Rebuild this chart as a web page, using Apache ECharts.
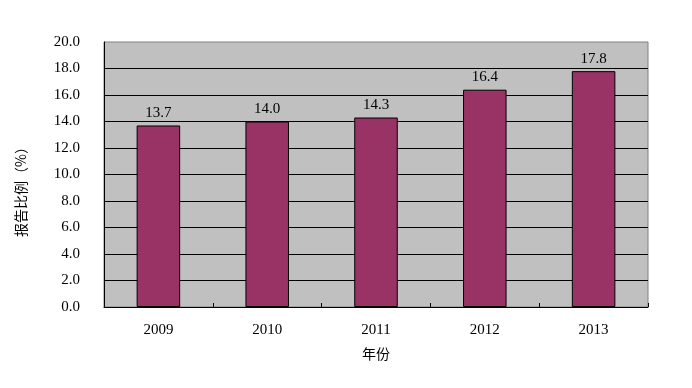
<!DOCTYPE html>
<html><head><meta charset="utf-8">
<script src="https://cdn.jsdelivr.net/npm/echarts@6/dist/echarts.min.js"></script>
<style>html,body{margin:0;padding:0;background:#fff}#c{width:692px;height:388px}</style>
</head><body><div id="c"></div>
<script>
const categories = ['2009', '2010', '2011', '2012', '2013'];
const values = [13.7, 14.0, 14.3, 16.4, 17.8];
const yMin = 0, yMax = 20, yStep = 2;
const xName = '年份';
const yName = '报告比例（%）';

const serif = '"Liberation Serif","DejaVu Serif",serif';
const cjk = '"Noto Sans CJK SC","Noto Sans CJK JP",sans-serif';
const chart = echarts.init(document.getElementById('c'));
chart.setOption({
  animation: false,
  backgroundColor: '#fff',
  grid: { left: 104, top: 42, width: 544, height: 265, show: true, backgroundColor: '#C0C0C0', borderColor: '#808080', borderWidth: 1 },
  xAxis: {
    type: 'category', data: categories,
    name: xName, nameLocation: 'middle', nameGap: 40,
    nameTextStyle: { fontFamily: cjk, fontSize: 14, color: '#000' },
    axisLine: { lineStyle: { color: '#000', width: 1 } },
    axisTick: { show: true, inside: true, length: 4, lineStyle: { color: '#000' } },
    axisLabel: { fontFamily: serif, fontSize: 15, color: '#000', margin: 16 }
  },
  yAxis: {
    type: 'value', min: yMin, max: yMax, interval: yStep,
    name: yName, nameLocation: 'middle', nameGap: 76, nameRotate: 90,
    nameTextStyle: { fontFamily: cjk, fontSize: 14, color: '#000', padding: [0, 28, 0, 0] },
    axisLine: { show: true, lineStyle: { color: '#000', width: 1 } },
    axisTick: { show: false },
    axisLabel: { fontFamily: serif, fontSize: 15, color: '#000', margin: 24, formatter: v => v.toFixed(1) },
    splitLine: { show: true, showMaxLine: false, lineStyle: { color: '#000', width: 1 } }
  },
  series: [{
    type: 'bar', data: values, barWidth: '40%',
    itemStyle: { color: '#993366', borderColor: '#000', borderWidth: 1 },
    label: { show: true, position: 'top', distance: 5, fontFamily: serif, fontSize: 15, color: '#000', formatter: p => p.value.toFixed(1) }
  }]
});
</script></body></html>
